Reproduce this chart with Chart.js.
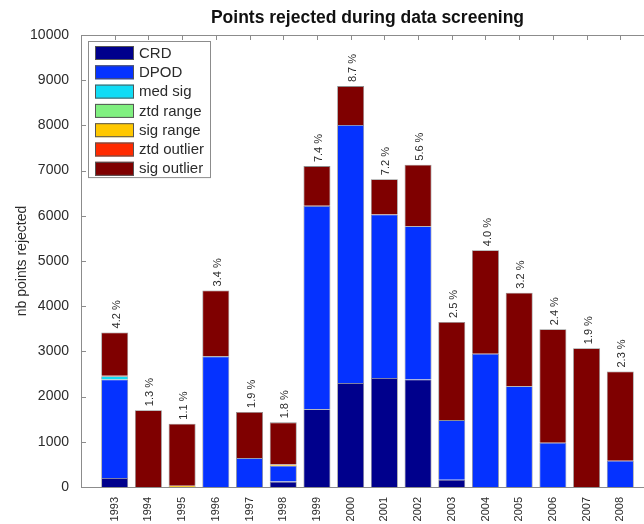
<!DOCTYPE html>
<html>
<head>
<meta charset="utf-8">
<script src="https://cdn.jsdelivr.net/npm/chart.js@4.4.1/dist/chart.umd.min.js"></script>
<style>
  html, body { margin: 0; padding: 0; background: #fff; overflow: hidden; }
  #wrap { width: 656px; height: 524px; }
</style>
</head>
<body>
<div id="wrap"><canvas id="chart" width="656" height="524"></canvas></div>
<script>
const years = [1993, 1994, 1995, 1996, 1997, 1998, 1999, 2000, 2001, 2002, 2003, 2004, 2005, 2006, 2007, 2008];
const crd        = [200, 0, 0, 0, 0, 120, 1720, 2300, 2410, 2380, 160, 0, 0, 0, 0, 0];
const dpod       = [2180, 0, 0, 2890, 640, 350, 4500, 5710, 3620, 3390, 1320, 2950, 2230, 980, 0, 580];
const medSig     = [70, 0, 0, 0, 0, 0, 0, 0, 0, 0, 0, 0, 0, 0, 0, 0];
const ztdRange   = [10, 0, 0, 0, 0, 0, 0, 0, 0, 0, 0, 0, 0, 0, 0, 0];
const sigRange   = [0, 0, 30, 0, 0, 30, 0, 0, 0, 0, 0, 0, 0, 0, 0, 0];
const ztdOutlier = [0, 0, 0, 0, 0, 0, 0, 0, 0, 0, 0, 0, 0, 0, 0, 0];
const sigOutlier = [960, 1700, 1370, 1460, 1020, 930, 880, 860, 780, 1360, 2170, 2290, 2070, 2510, 3070, 1975];
const percents   = ["4.2 %", "1.3 %", "1.1 %", "3.4 %", "1.9 %", "1.8 %", "7.4 %", "8.7 %", "7.2 %", "5.6 %", "2.5 %", "4.0 %", "3.2 %", "2.4 %", "1.9 %", "2.3 %"];
const yTicks = [0, 1000, 2000, 3000, 4000, 5000, 6000, 7000, 8000, 9000, 10000];
const titleText = "Points rejected during data screening";

const FONT = "'Liberation Sans', Arial, Helvetica, sans-serif";
const TXT = "#2b2b2b";
const AXIS = "#8c8c8c";

const series = [
  { label: "CRD", values: crd, color: "#00008c" },
  { label: "DPOD", values: dpod, color: "#0532ff" },
  { label: "med sig", values: medSig, color: "#10dcf5" },
  { label: "ztd range", values: ztdRange, color: "#80f080" },
  { label: "sig range", values: sigRange, color: "#ffc800" },
  { label: "ztd outlier", values: ztdOutlier, color: "#ff2a00" },
  { label: "sig outlier", values: sigOutlier, color: "#7f0000" }
];

function toPoints(arr) {
  return years.map((yr, i) => ({ x: yr, y: arr[i] }));
}

// title centred over the plot area, not the canvas
const titlePlugin = {
  id: "plotTitle",
  afterDraw(chart) {
    const { ctx, chartArea: a } = chart;
    ctx.save();
    ctx.fillStyle = "#111";
    ctx.font = "bold 17.5px " + FONT;
    ctx.textAlign = "center";
    ctx.textBaseline = "alphabetic";
    ctx.fillText(titleText, (a.left + a.right) / 2, 23);
    ctx.restore();
  }
};

// frame with inward ticks, like the matlab axes
const framePlugin = {
  id: "frame",
  afterDatasetsDraw(chart) {
    const { ctx, chartArea: a, scales } = chart;
    ctx.save();
    ctx.strokeStyle = AXIS;
    ctx.lineWidth = 1;
    ctx.strokeRect(a.left + 0.5, a.top + 0.5, a.right - a.left, a.bottom - a.top);
    ctx.beginPath();
    yTicks.forEach(v => {
      const y = Math.round(scales.y.getPixelForValue(v)) + 0.5;
      ctx.moveTo(a.left, y); ctx.lineTo(a.left + 5, y);
      ctx.moveTo(a.right, y); ctx.lineTo(a.right - 5, y);
    });
    years.forEach(v => {
      const x = Math.round(scales.x.getPixelForValue(v)) + 0.5;
      ctx.moveTo(x, a.top); ctx.lineTo(x, a.top + 5);
    });
    ctx.stroke();
    ctx.restore();
  }
};

// rotated percentage above each bar
const percentPlugin = {
  id: "percents",
  afterDatasetsDraw(chart) {
    const { ctx, scales } = chart;
    ctx.save();
    ctx.fillStyle = TXT;
    ctx.font = "11px " + FONT;
    ctx.textAlign = "left";
    ctx.textBaseline = "middle";
    years.forEach((yr, i) => {
      const total = series.reduce((s, d) => s + d.values[i], 0);
      const x = scales.x.getPixelForValue(yr) + 2;
      const y = scales.y.getPixelForValue(total) - 4;
      ctx.save();
      ctx.translate(x, y);
      ctx.rotate(-Math.PI / 2);
      ctx.fillText(percents[i], 0, 0);
      ctx.restore();
    });
    ctx.restore();
  }
};

// boxed legend inside the plot, top left
const legendPlugin = {
  id: "boxLegend",
  afterDraw(chart) {
    const { ctx, chartArea: a } = chart;
    const x0 = a.left + 7, y0 = a.top + 6;
    const w = 122, rowH = 19.3;
    const h = series.length * rowH + 1;
    ctx.save();
    ctx.fillStyle = "#fff";
    ctx.fillRect(x0, y0, w, h);
    ctx.strokeStyle = AXIS;
    ctx.lineWidth = 1;
    ctx.strokeRect(x0 + 0.5, y0 + 0.5, w, h);
    ctx.font = "15px " + FONT;
    ctx.textBaseline = "middle";
    ctx.textAlign = "left";
    chart.data.datasets.forEach((ds, i) => {
      const ry = y0 + 5 + i * rowH;
      ctx.fillStyle = ds.backgroundColor;
      ctx.fillRect(x0 + 7, ry, 39, 14);
      ctx.strokeStyle = "#555";
      ctx.strokeRect(x0 + 7.5, ry + 0.5, 38, 13);
      ctx.fillStyle = TXT;
      ctx.fillText(ds.label, x0 + 51, ry + 7.5);
    });
    ctx.restore();
  }
};

new Chart(document.getElementById("chart"), {
  type: "bar",
  data: {
    datasets: series.map(s => ({
      label: s.label,
      data: toPoints(s.values),
      backgroundColor: s.color,
      borderColor: "rgba(50,50,50,0.55)",
      borderWidth: 0.8,
      barPercentage: 0.8,
      categoryPercentage: 1
    }))
  },
  options: {
    responsive: false,
    animation: false,
    layout: { padding: { left: 0, right: 2, top: 35, bottom: 0 } },
    plugins: {
      legend: { display: false },
      tooltip: { enabled: false },
      title: { display: false }
    },
    scales: {
      x: {
        type: "linear",
        stacked: true,
        offset: false,
        min: 1992,
        max: 2009,
        grid: { display: false },
        border: { display: false },
        afterBuildTicks: s => { s.ticks = years.map(v => ({ value: v })); },
        afterFit: s => { s.height = 37; },
        ticks: {
          autoSkip: false,
          minRotation: 90,
          maxRotation: 90,
          padding: 2,
          color: TXT,
          font: { family: FONT, size: 11 },
          callback: v => String(v)
        }
      },
      y: {
        stacked: true,
        min: 0,
        max: 10000,
        grid: { display: false },
        border: { display: false },
        afterBuildTicks: s => { s.ticks = yTicks.map(v => ({ value: v })); },
        afterFit: s => { s.width = 81; },
        ticks: {
          padding: 4,
          color: TXT,
          font: { family: FONT, size: 14 },
          callback: v => String(v)
        },
        title: {
          display: true,
          text: "nb points rejected",
          color: TXT,
          font: { family: FONT, size: 14 },
          padding: { top: 14, bottom: 0 }
        }
      }
    }
  },
  plugins: [framePlugin, percentPlugin, legendPlugin, titlePlugin]
});
</script>
</body>
</html>
